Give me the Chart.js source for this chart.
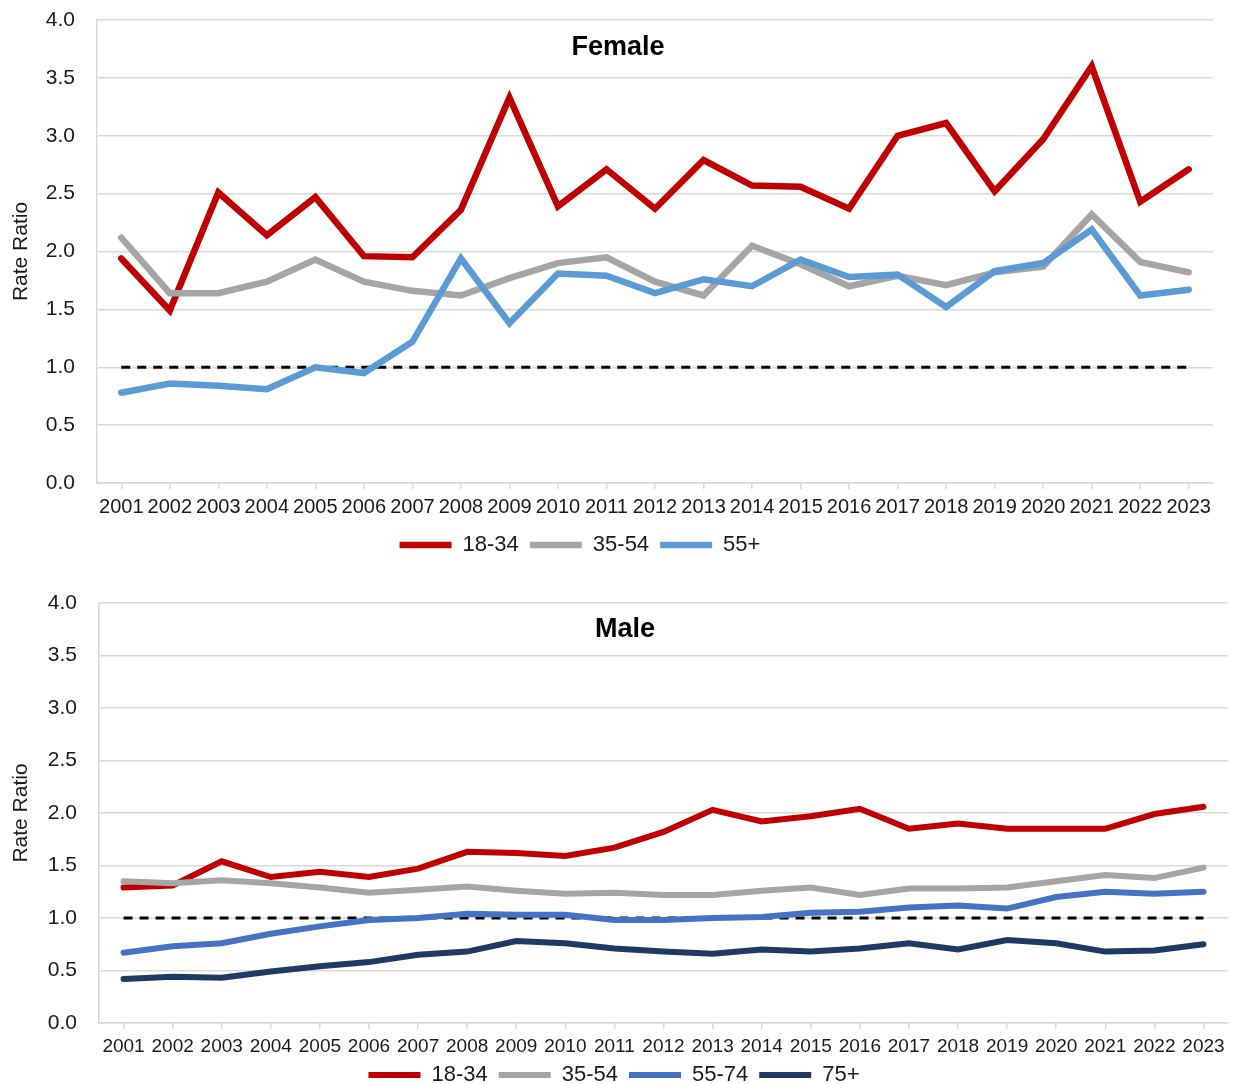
<!DOCTYPE html>
<html>
<head>
<meta charset="utf-8">
<script src="https://cdn.jsdelivr.net/npm/chart.js@4.4.1/dist/chart.umd.min.js"></script>
<style>
  html, body { margin: 0; padding: 0; background: #fff; overflow: hidden; }
  body { width: 1233px; height: 1084px; position: relative; }
  canvas { position: absolute; left: 0; }
  #femaleChart { top: 0; }
  #maleChart { top: 575px; }
</style>
</head>
<body>
<canvas id="femaleChart" width="1233" height="566"></canvas>
<canvas id="maleChart" width="1233" height="521"></canvas>
<script>
var years = ["2001", "2002", "2003", "2004", "2005", "2006", "2007", "2008", "2009", "2010", "2011", "2012",
             "2013", "2014", "2015", "2016", "2017", "2018", "2019", "2020", "2021", "2022", "2023"];
var rateTicks = [0.0, 0.5, 1.0, 1.5, 2.0, 2.5, 3.0, 3.5, 4.0];
var referenceRatio = 1.0;

// Female
var female18to34 = [1.94, 1.49, 2.51, 2.14, 2.47, 1.96, 1.95, 2.36, 3.33, 2.39, 2.71, 2.37,
                    2.79, 2.57, 2.56, 2.37, 3.00, 3.11, 2.52, 2.97, 3.60, 2.43, 2.71];
var female35to54 = [2.12, 1.64, 1.64, 1.74, 1.93, 1.74, 1.66, 1.62, 1.77, 1.90, 1.95, 1.74,
                    1.62, 2.05, 1.89, 1.70, 1.79, 1.71, 1.82, 1.87, 2.32, 1.91, 1.82];
var female55plus = [0.78, 0.86, 0.84, 0.81, 1.00, 0.95, 1.22, 1.94, 1.38, 1.81, 1.79, 1.64,
                    1.76, 1.70, 1.93, 1.78, 1.80, 1.52, 1.83, 1.90, 2.19, 1.62, 1.67];

// Male
var male18to34 = [1.29, 1.31, 1.54, 1.39, 1.44, 1.39, 1.47, 1.63, 1.62, 1.59, 1.67, 1.82,
                  2.03, 1.92, 1.97, 2.04, 1.85, 1.90, 1.85, 1.85, 1.85, 1.99, 2.06];
var male35to54 = [1.35, 1.33, 1.36, 1.33, 1.29, 1.24, 1.27, 1.30, 1.26, 1.23, 1.24, 1.22,
                  1.22, 1.26, 1.29, 1.22, 1.28, 1.28, 1.29, 1.35, 1.41, 1.38, 1.48];
var male55to74 = [0.67, 0.73, 0.76, 0.85, 0.92, 0.98, 1.00, 1.04, 1.03, 1.03, 0.98, 0.98,
                  1.00, 1.01, 1.05, 1.06, 1.10, 1.12, 1.09, 1.20, 1.25, 1.23, 1.25];
var male75plus = [0.42, 0.44, 0.43, 0.49, 0.54, 0.58, 0.65, 0.68, 0.78, 0.76, 0.71, 0.68,
                  0.66, 0.70, 0.68, 0.71, 0.76, 0.70, 0.79, 0.76, 0.68, 0.69, 0.75];

var fontFamily = '"Liberation Sans", Arial, sans-serif';
var gridColor = "#d9d9d9";
var textColor = "#1a1a1a";

// draws the "Female" / "Male" label inside the plot
const panelTitle = {
  id: "panelTitle",
  afterDatasetsDraw(chart, args, opts) {
    const ctx = chart.ctx
    const area = chart.chartArea
    ctx.save()
    ctx.font = "bold 27px " + fontFamily
    ctx.fillStyle = "#000"
    ctx.textAlign = "center"
    ctx.textBaseline = "middle"
    ctx.fillText(opts.text, area.left + opts.dx, area.top + opts.dy)
    ctx.restore()
  }
}

function line(label, values, color, width, order) {
  return {
    label: label,
    data: values,
    borderColor: color,
    backgroundColor: color,
    borderWidth: width,
    borderCapStyle: "round",
    pointRadius: 0,
    tension: 0,
    order: order
  }
}

function refLine() {
  return {
    label: "ref",
    data: years.map(() => referenceRatio),
    borderColor: "#000",
    borderWidth: 3,
    borderDash: [9, 7],
    pointRadius: 0,
    order: 20
  }
}

function makeChart(id, datasets, p) {
  return new Chart(id, {
    type: "line",
    data: { labels: years, datasets: datasets },
    plugins: [panelTitle],
    options: {
      responsive: false,
      animation: false,
      layout: { padding: { top: p.top, left: p.padLeft, right: p.right, bottom: 0 } },
      scales: {
        x: {
          offset: true,
          grid: { display: true, drawOnChartArea: false, drawTicks: true, tickLength: 6, color: gridColor, lineWidth: 1.5 },
          border: { display: true, color: gridColor, width: 1.5 },
          ticks: { autoSkip: false, maxRotation: 0, minRotation: 0, padding: p.xPad, color: textColor,
                   font: { family: fontFamily, size: p.xFont } },
          afterFit: s => { s.height = p.xHeight }
        },
        y: {
          min: 0,
          max: 4,
          afterBuildTicks: axis => { axis.ticks = rateTicks.map(v => ({ value: v })) },
          // invisible tick marks keep the labels away from the axis
          grid: { color: gridColor, lineWidth: 1.5, drawTicks: true, tickLength: 22, tickColor: "rgba(0,0,0,0)" },
          border: { display: true, color: gridColor, width: 1.5 },
          ticks: { padding: 0, color: textColor, font: { family: fontFamily, size: 21 },
                   callback: v => Number(v).toFixed(1) },
          title: { display: true, text: "Rate Ratio", color: textColor, padding: { top: p.titlePad, bottom: 0 },
                   font: { family: fontFamily, size: 21 } },
          afterFit: s => { s.width = p.yWidth }
        }
      },
      plugins: {
        tooltip: { enabled: false },
        panelTitle: { text: p.title, dx: p.dx, dy: p.dy },
        legend: {
          position: "bottom",
          labels: {
            usePointStyle: true,
            pointStyle: "line",
            pointStyleWidth: 52,
            padding: 11,
            color: textColor,
            font: { family: fontFamily, size: 22 },
            filter: item => item.text !== "ref",
            sort: (a, b) => a.datasetIndex - b.datasetIndex
          }
        }
      }
    }
  })
}

makeChart("femaleChart", [
  line("18-34", female18to34, "#C00000", 6.5, 3),
  line("35-54", female35to54, "#A5A5A5", 6.5, 2),
  line("55+", female55plus, "#5B9BD5", 6.5, 1),
  refLine()
], { title: "Female", dx: 521, dy: 28, top: 20, padLeft: -53, yWidth: 150, titlePad: 62,
     right: 20, xFont: 20, xHeight: 40, xPad: 6 })

makeChart("maleChart", [
  line("18-34", male18to34, "#C00000", 6, 4),
  line("35-54", male35to54, "#A5A5A5", 6, 3),
  line("55-74", male55to74, "#4472C4", 6, 2),
  line("75+", male75plus, "#203864", 6, 1),
  refLine()
], { title: "Male", dx: 526, dy: 27, top: 28, padLeft: 0, yWidth: 99, titlePad: 9,
     right: 5, xFont: 19, xHeight: 30, xPad: 6 })
</script>
</body>
</html>
